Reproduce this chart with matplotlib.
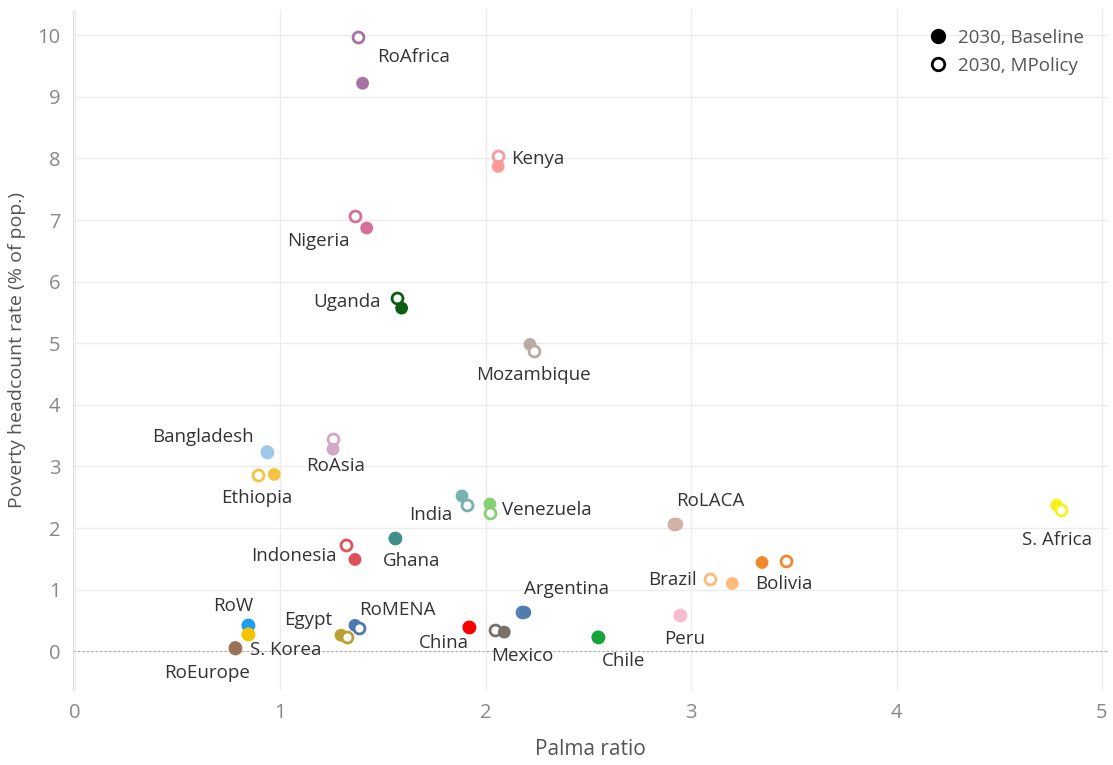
import matplotlib
matplotlib.use("Agg")
import matplotlib.pyplot as plt
from matplotlib.lines import Line2D

plt.rcParams['font.family'] = ['Open Sans', 'DejaVu Sans']

# Data
countries = ['RoAfrica', 'Kenya', 'Nigeria', 'Uganda', 'Mozambique', 'Bangladesh', 'RoAsia',
             'Ethiopia', 'India', 'Venezuela', 'RoLACA', 'S. Africa', 'Ghana', 'Indonesia',
             'Brazil', 'Bolivia', 'Peru', 'Argentina', 'Chile', 'Mexico', 'China', 'RoMENA',
             'Egypt', 'RoW', 'S. Korea', 'RoEurope']
palma_base = [1.40, 2.06, 1.42, 1.59, 2.215, 0.935, 1.256, 0.97, 1.884, 2.02, 2.93, 4.78, 1.558,
              1.363, 3.20, 3.345, 2.945, 2.19, 2.546, 2.09, 1.918, 1.363, 1.295, 0.842, 0.842, 0.78]
pov_base = [9.22, 7.87, 6.87, 5.57, 4.98, 3.24, 3.28, 2.87, 2.52, 2.39, 2.06, 2.37, 1.83, 1.49,
            1.10, 1.44, 0.58, 0.63, 0.23, 0.31, 0.39, 0.42, 0.26, 0.42, 0.28, 0.06]
palma_pol = [1.378, 2.06, 1.363, 1.568, 2.235, 0.935, 1.256, 0.89, 1.908, 2.02, 2.915, 4.80, 1.558,
             1.319, 3.09, 3.46, 2.945, 2.175, 2.546, 2.045, 1.918, 1.383, 1.324, 0.842, 0.842, 0.78]
pov_pol = [9.97, 8.04, 7.06, 5.73, 4.87, 3.24, 3.44, 2.86, 2.37, 2.24, 2.06, 2.29, 1.83, 1.72,
           1.18, 1.46, 0.58, 0.63, 0.23, 0.34, 0.39, 0.37, 0.23, 0.42, 0.28, 0.06]
colors = ['#a673a0', '#fb9a99', '#d4709a', '#0b5d10', '#b8aca6', '#a0c8e8', '#d4a6c8',
          '#f5c342', '#78b2ad', '#86cf72', '#d2b0a3', '#f7f31a', '#3f8f88', '#e0505a',
          '#ffb97a', '#f0892c', '#f8bcd0', '#4f7db0', '#16a53a', '#79706e', '#ff0000',
          '#4e78b0', '#b9a033', '#1ba0ef', '#f5c400', '#9b7358']
# label offsets (pixels) from the baseline marker
label_offsets = {
    'RoAfrica': (51, 26), 'Kenya': (40, 7), 'Nigeria': (-48, -13), 'Uganda': (-55, 6),
    'Mozambique': (3, -31), 'Bangladesh': (-64, 15), 'RoAsia': (3, -17), 'Ethiopia': (-18, -24),
    'India': (-31, -19), 'Venezuela': (57, -6), 'RoLACA': (33, 23), 'S. Africa': (0, -35),
    'Ghana': (17, -23), 'Indonesia': (-61, 3), 'Brazil': (-60, 3), 'Bolivia': (22, -21),
    'Peru': (5, -24), 'Argentina': (42, 23), 'Chile': (26, -24), 'Mexico': (18, -24),
    'China': (-25, -16), 'RoMENA': (42, 15), 'Egypt': (-33, 15), 'RoW': (-15, 19),
    'S. Korea': (38, -16), 'RoEurope': (-28, -25),
}

fig = plt.figure(figsize=(11.13, 7.65), dpi=100)
ax = fig.add_axes([0.0656, 0.098, 0.93, 0.889])

# Collect all markers; lower ones drawn on top, filled above open at ties
marks = []
for i, c in enumerate(countries):
    marks.append((palma_base[i], pov_base[i], colors[i], True))
    marks.append((palma_pol[i], pov_pol[i], colors[i], False))
marks.sort(key=lambda m: (-m[1], m[3]))
for z, (x, y, col, filled) in enumerate(marks):
    if filled:
        ax.scatter(x, y, s=85, color=col, edgecolors='none', zorder=3 + z * 0.01)
    else:
        ax.scatter(x, y, s=62, facecolors='white', edgecolors=col, linewidths=2,
                   zorder=3 + z * 0.01)

for i, c in enumerate(countries):
    ax.annotate(c, (palma_base[i], pov_base[i]), xytext=label_offsets[c],
                textcoords='offset pixels', ha='center', va='center',
                fontsize=13.5, color='#333333', zorder=5)

ax.set_xlim(-0.01, 5.03)
ax.set_ylim(-0.63, 10.41)
ax.set_xticks(range(0, 6))
ax.set_yticks(range(0, 11))
ax.grid(True, color='#ececec', linewidth=1)
ax.set_axisbelow(True)
ax.axhline(0, color='#aaaaaa', linestyle=(0, (2, 2)), linewidth=0.8, zorder=1)
for s in ['top', 'right', 'bottom']:
    ax.spines[s].set_visible(False)
ax.spines['left'].set_color('#e0e0e0')
ax.tick_params(length=0, labelsize=14.5, colors='#888888', pad=9)
ax.set_xlabel('Palma ratio', fontsize=15, color='#555555', labelpad=12)
ax.set_ylabel('Poverty headcount rate (% of pop.)', fontsize=14, color='#555555', labelpad=8)

handles = [Line2D([], [], marker='o', linestyle='none', markersize=10, color='black'),
           Line2D([], [], marker='o', linestyle='none', markersize=9, markerfacecolor='white',
                  markeredgecolor='black', markeredgewidth=2)]
leg = ax.legend(handles, ['2030, Baseline', '2030, MPolicy'], loc='upper right', frameon=False,
                fontsize=13.5, handletextpad=0.1, borderaxespad=0.6, labelspacing=0.55,
                bbox_to_anchor=(0.995, 1.0))
for t in leg.get_texts():
    t.set_color('#555555')

fig.savefig('out.png', dpi=100)
